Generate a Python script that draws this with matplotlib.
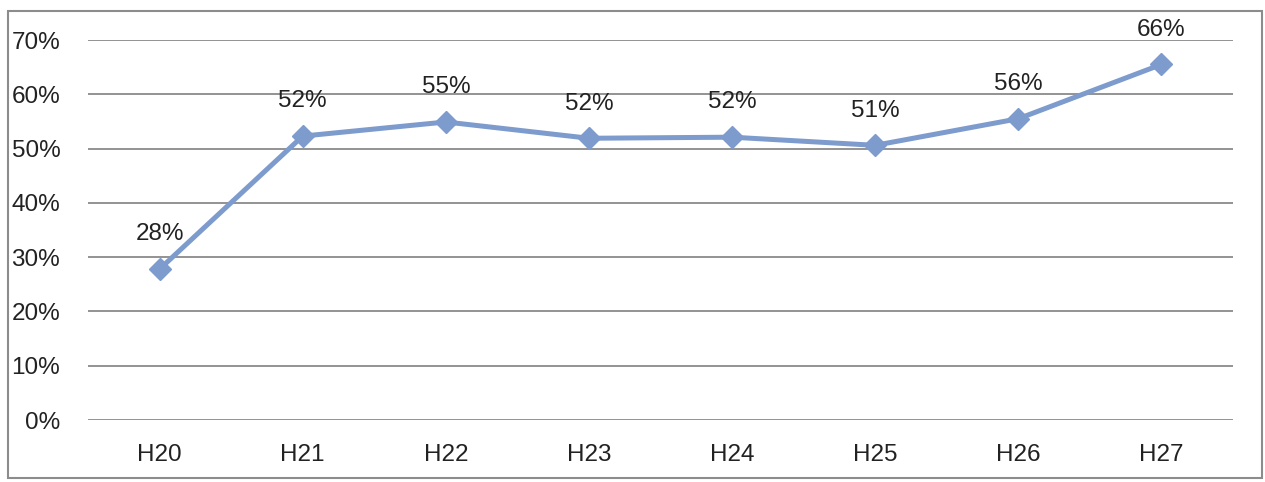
import numpy as np
import matplotlib.pyplot as plt
from matplotlib.patches import Rectangle
from matplotlib.ticker import PercentFormatter

plt.rcParams['font.family'] = ['Liberation Sans', 'DejaVu Sans']

years = ['H20', 'H21', 'H22', 'H23', 'H24', 'H25', 'H26', 'H27']
rate = [0.278, 0.523, 0.549, 0.519, 0.521, 0.506, 0.555, 0.655]
yticks = [0, 0.1, 0.2, 0.3, 0.4, 0.5, 0.6, 0.7]

fig = plt.figure(figsize=(12.65, 4.82), dpi=100)
ax = fig.add_axes([0.0696, 0.1286, 0.9051, 0.7884])

x = np.arange(len(years))
ax.plot(x, rate, color='#7d9bcd', lw=3.6, marker='D', ms=11, mec='#7d9bcd', zorder=3)

for i, v in enumerate(rate):
    ax.annotate('%d%%' % round(v * 100), (x[i], v), xytext=(0, 25),
                textcoords='offset points', ha='center', va='center',
                fontsize=17.5, color='#222222')

ax.set_xlim(-0.5, len(years) - 0.5)
ax.set_ylim(0, 0.7)
ax.set_yticks(yticks)
ax.yaxis.set_major_formatter(PercentFormatter(1.0, decimals=0))
ax.set_xticks(x)
ax.set_xticklabels(years)
ax.tick_params(length=0, labelsize=17.5, labelcolor='#222222')
ax.tick_params(axis='y', pad=20)
ax.tick_params(axis='x', pad=17)
ax.grid(axis='y', color='#8a8a8a', lw=1.3)
ax.set_axisbelow(True)
for s in ax.spines.values():
    s.set_visible(False)

# outer frame
fig.patches.append(Rectangle((0.0063, 0.0083), 0.9913, 0.969, transform=fig.transFigure,
                             fill=False, ec='#8c8c8c', lw=1.5))

fig.savefig('out.png', dpi=100)
